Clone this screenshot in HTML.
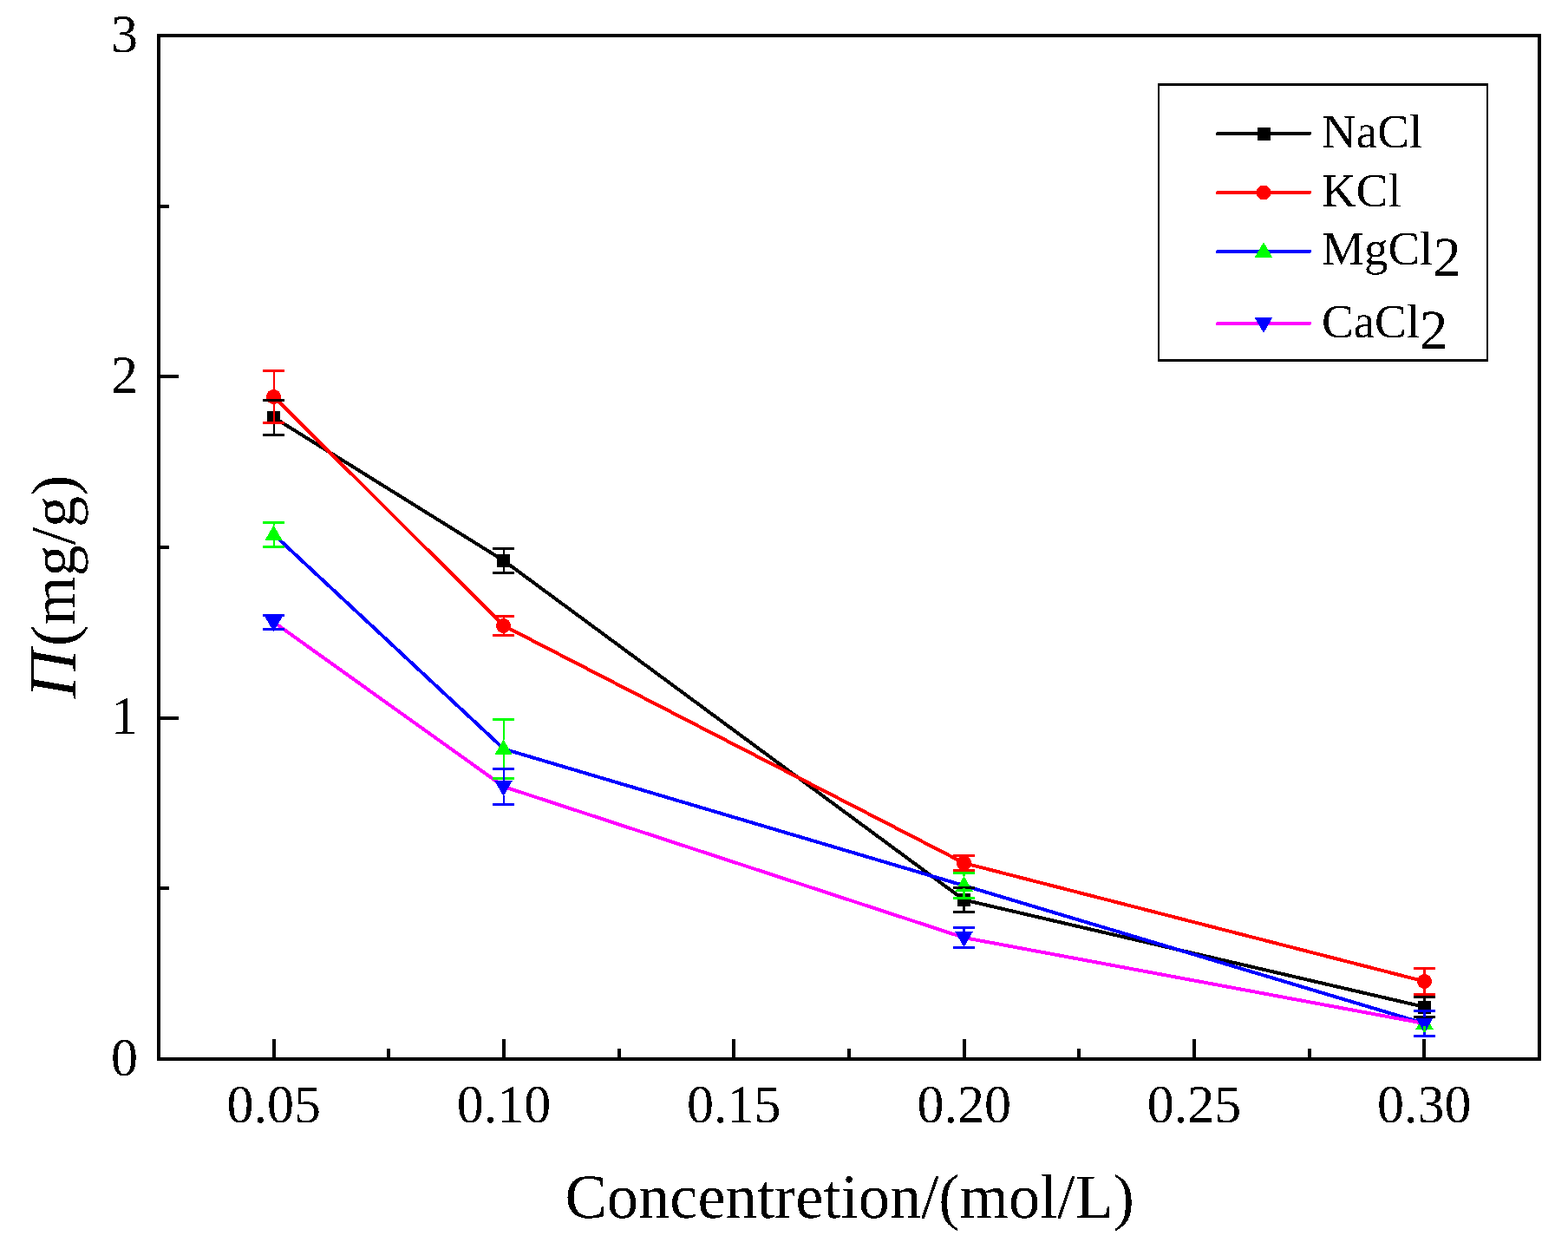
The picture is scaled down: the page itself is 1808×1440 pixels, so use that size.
<!DOCTYPE html><html><head><meta charset="utf-8"><title>Chart</title><style>html,body{margin:0;padding:0;background:#fff;}svg{display:block;}text{font-family:"Liberation Serif","Times New Roman",serif;text-rendering:geometricPrecision;}</style></head><body>
<svg shape-rendering="crispEdges" width="1808" height="1440" viewBox="0 0 1808 1440">
<defs><filter id="bin" filterUnits="userSpaceOnUse" x="0" y="0" width="1808" height="1440"><feComponentTransfer><feFuncA type="discrete" tableValues="0 1"/></feComponentTransfer></filter></defs>
<rect x="0" y="0" width="1808" height="1440" fill="#fff"/>
<polyline points="316.00,481.50 581.00,646.50 1111.50,1037.50 1642.50,1161.00" fill="none" stroke="#000000" stroke-width="4.0" stroke-linejoin="round"/>
<polyline points="316.00,457.50 581.00,721.50 1111.50,995.00 1642.50,1131.50" fill="none" stroke="#ff0000" stroke-width="4.0" stroke-linejoin="round"/>
<polyline points="316.00,616.50 581.00,863.50 1111.50,1021.00 1642.50,1180.00" fill="none" stroke="#0000ff" stroke-width="4.0" stroke-linejoin="round"/>
<polyline points="316.00,717.50 581.00,907.00 1111.50,1081.00 1642.50,1180.00" fill="none" stroke="#ff00ff" stroke-width="4.0" stroke-linejoin="round"/>
<path d="M316.00,461.50V481.50M316.00,481.50V501.50" stroke="#000000" stroke-width="2.6" fill="none"/>
<path d="M581.00,632.50V646.50M581.00,646.50V660.50" stroke="#000000" stroke-width="2.6" fill="none"/>
<path d="M1111.50,1023.50V1037.50M1111.50,1037.50V1051.50" stroke="#000000" stroke-width="2.6" fill="none"/>
<path d="M1642.50,1149.50V1161.00M1642.50,1161.00V1172.50" stroke="#000000" stroke-width="2.6" fill="none"/>
<rect x="308.00" y="474.00" width="15.0" height="15.0" fill="#000000"/>
<rect x="573.00" y="639.00" width="15.0" height="15.0" fill="#000000"/>
<rect x="1104.00" y="1030.00" width="15.0" height="15.0" fill="#000000"/>
<rect x="1635.00" y="1153.50" width="15.0" height="15.0" fill="#000000"/>
<circle cx="315.50" cy="457.50" r="8.5" fill="#ff0000"/>
<circle cx="580.50" cy="721.50" r="8.5" fill="#ff0000"/>
<circle cx="1111.50" cy="995.00" r="8.5" fill="#ff0000"/>
<circle cx="1642.50" cy="1131.50" r="8.5" fill="#ff0000"/>
<polygon points="315.50,605.50 325.75,623.30 305.25,623.30" fill="#00ff00"/>
<polygon points="580.50,852.50 590.75,870.30 570.25,870.30" fill="#00ff00"/>
<polygon points="1111.50,1010.00 1121.75,1027.80 1101.25,1027.80" fill="#00ff00"/>
<polygon points="1642.50,1169.00 1652.75,1186.80 1632.25,1186.80" fill="#00ff00"/>
<polygon points="315.50,728.50 325.75,710.70 305.25,710.70" fill="#0000ff"/>
<polygon points="580.50,918.00 590.75,900.20 570.25,900.20" fill="#0000ff"/>
<polygon points="1111.50,1092.00 1121.75,1074.20 1101.25,1074.20" fill="#0000ff"/>
<polygon points="1642.50,1191.00 1652.75,1173.20 1632.25,1173.20" fill="#0000ff"/>
<path d="M303.00,461.50H328.00M303.00,501.50H328.00" stroke="#000000" stroke-width="3.0" fill="none"/>
<path d="M568.00,632.50H593.00M568.00,660.50H593.00" stroke="#000000" stroke-width="3.0" fill="none"/>
<path d="M1099.00,1023.50H1124.00M1099.00,1051.50H1124.00" stroke="#000000" stroke-width="3.0" fill="none"/>
<path d="M1630.00,1149.50H1655.00M1630.00,1172.50H1655.00" stroke="#000000" stroke-width="3.0" fill="none"/>
<path d="M316.00,427.50V449.00M316.00,466.00V487.50" stroke="#ff0000" stroke-width="2.6" fill="none"/>
<path d="M581.00,710.50V713.00M581.00,730.00V732.50" stroke="#ff0000" stroke-width="2.6" fill="none"/>
<path d="M1642.50,1116.50V1123.00M1642.50,1140.00V1146.50" stroke="#ff0000" stroke-width="2.6" fill="none"/>
<path d="M303.00,427.50H328.00M303.00,487.50H328.00" stroke="#ff0000" stroke-width="3.0" fill="none"/>
<path d="M568.00,710.50H593.00M568.00,732.50H593.00" stroke="#ff0000" stroke-width="3.0" fill="none"/>
<path d="M1099.00,986.50H1124.00M1099.00,1003.50H1124.00" stroke="#ff0000" stroke-width="3.0" fill="none"/>
<path d="M1630.00,1116.50H1655.00M1630.00,1146.50H1655.00" stroke="#ff0000" stroke-width="3.0" fill="none"/>
<path d="M316.00,602.50V605.50M316.00,619.50V630.50" stroke="#00ff00" stroke-width="2.6" fill="none"/>
<path d="M581.00,829.50V852.50M581.00,866.50V897.50" stroke="#00ff00" stroke-width="2.6" fill="none"/>
<path d="M1111.50,1006.50V1010.00M1111.50,1024.00V1035.50" stroke="#00ff00" stroke-width="2.6" fill="none"/>
<path d="M1642.50,1165.50V1169.00M1642.50,1183.00V1194.50" stroke="#00ff00" stroke-width="2.6" fill="none"/>
<path d="M303.00,602.50H328.00M303.00,630.50H328.00" stroke="#00ff00" stroke-width="3.0" fill="none"/>
<path d="M568.00,829.50H593.00M568.00,897.50H593.00" stroke="#00ff00" stroke-width="3.0" fill="none"/>
<path d="M1099.00,1006.50H1124.00M1099.00,1035.50H1124.00" stroke="#00ff00" stroke-width="3.0" fill="none"/>
<path d="M1630.00,1165.50H1655.00M1630.00,1194.50H1655.00" stroke="#00ff00" stroke-width="3.0" fill="none"/>
<path d="M316.00,709.50V710.70" stroke="#0000ff" stroke-width="2.6" fill="none"/>
<path d="M581.00,886.50V900.20M581.00,917.00V927.50" stroke="#0000ff" stroke-width="2.6" fill="none"/>
<path d="M1111.50,1069.50V1074.20M1111.50,1091.00V1092.50" stroke="#0000ff" stroke-width="2.6" fill="none"/>
<path d="M1642.50,1165.50V1173.20M1642.50,1190.00V1194.50" stroke="#0000ff" stroke-width="2.6" fill="none"/>
<path d="M303.00,709.50H328.00M303.00,725.50H328.00" stroke="#0000ff" stroke-width="3.0" fill="none"/>
<path d="M568.00,886.50H593.00M568.00,927.50H593.00" stroke="#0000ff" stroke-width="3.0" fill="none"/>
<path d="M1099.00,1069.50H1124.00M1099.00,1092.50H1124.00" stroke="#0000ff" stroke-width="3.0" fill="none"/>
<path d="M1630.00,1165.50H1655.00M1630.00,1194.50H1655.00" stroke="#0000ff" stroke-width="3.0" fill="none"/>
<rect x="183.00" y="41.00" width="1592.00" height="1180.00" fill="none" stroke="#000" stroke-width="4.0"/>
<path d="M315.67,1221.00V1198.00M581.00,1221.00V1198.00M846.33,1221.00V1198.00M1111.67,1221.00V1198.00M1377.00,1221.00V1198.00M1642.33,1221.00V1198.00M448.33,1221.00V1209.00M713.67,1221.00V1209.00M979.00,1221.00V1209.00M1244.33,1221.00V1209.00M1509.67,1221.00V1209.00M183.00,827.67H206.00M183.00,434.33H206.00M183.00,1024.33H195.00M183.00,631.00H195.00M183.00,237.67H195.00" stroke="#000" stroke-width="4.0" fill="none"/>
<rect x="1335" y="96" width="381" height="321" fill="#fff"/>
<path d="M1335,96h381v3h-381zM1335,414h381v3h-381zM1335,96h2v321h-2zM1714,96h2v321h-2z" fill="#000"/>
<line x1="1404" y1="154.0" x2="1510" y2="154.0" stroke="#000000" stroke-width="4" stroke-linecap="round"/>
<rect x="1449.50" y="146.50" width="15.0" height="15.0" fill="#000000"/>
<line x1="1404" y1="222.0" x2="1510" y2="222.0" stroke="#ff0000" stroke-width="4" stroke-linecap="round"/>
<circle cx="1457.00" cy="222.00" r="8.5" fill="#ff0000"/>
<line x1="1404" y1="290.0" x2="1510" y2="290.0" stroke="#0000ff" stroke-width="4" stroke-linecap="round"/>
<polygon points="1457.00,279.00 1467.25,296.80 1446.75,296.80" fill="#00ff00"/>
<line x1="1404" y1="373.0" x2="1510" y2="373.0" stroke="#ff00ff" stroke-width="4" stroke-linecap="round"/>
<polygon points="1457.00,384.00 1467.25,366.20 1446.75,366.20" fill="#0000ff"/>
<g filter="url(#bin)">
<text x="159" y="1239.50" font-size="62" text-anchor="end">0</text>
<text x="159" y="846.17" font-size="62" text-anchor="end">1</text>
<text x="159" y="452.83" font-size="62" text-anchor="end">2</text>
<text x="159" y="59.50" font-size="62" text-anchor="end">3</text>
<text x="315.67" y="1294" font-size="62" text-anchor="middle">0.05</text>
<text x="581.00" y="1294" font-size="62" text-anchor="middle">0.10</text>
<text x="846.33" y="1294" font-size="62" text-anchor="middle">0.15</text>
<text x="1111.67" y="1294" font-size="62" text-anchor="middle">0.20</text>
<text x="1377.00" y="1294" font-size="62" text-anchor="middle">0.25</text>
<text x="1642.33" y="1294" font-size="62" text-anchor="middle">0.30</text>
<text x="979.7" y="1403.5" font-size="72.5" text-anchor="middle">Concentretion/(mol/L)</text>
<text transform="translate(87,805) rotate(-90)" font-size="78" font-style="italic">Π</text>
<text transform="translate(86,745) rotate(-90)" font-size="72.5">(mg/g)</text>
<text x="1524" y="169.8" font-size="55">NaCl</text>
<text x="1524" y="237.8" font-size="55">KCl</text>
<text x="1524" y="305.0" font-size="55">MgCl<tspan font-size="64.5" dy="12.8">2</tspan></text>
<text x="1524" y="389.0" font-size="55">CaCl<tspan font-size="64.5" dy="12.8">2</tspan></text>
</g>
</svg></body></html>
